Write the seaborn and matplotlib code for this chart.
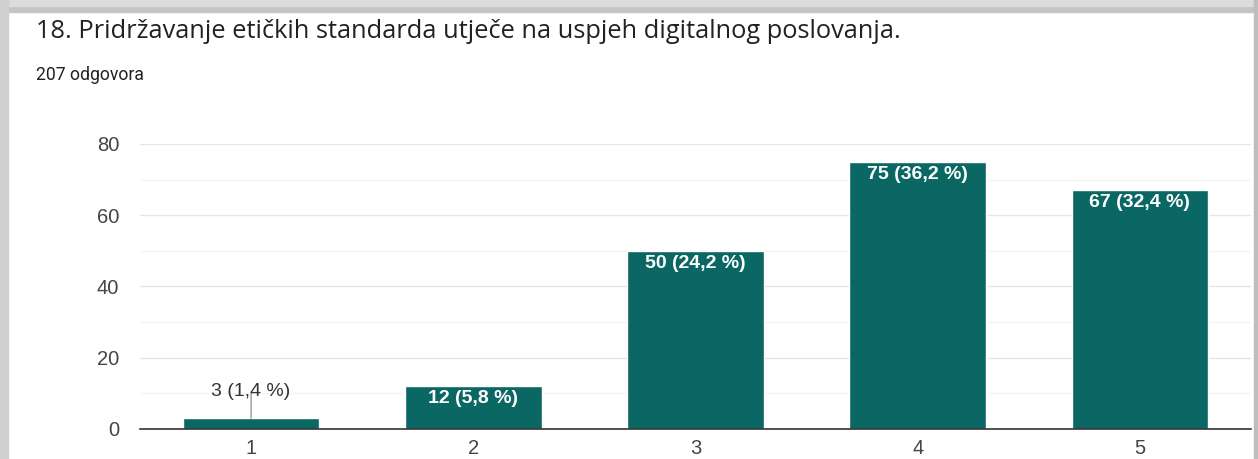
import seaborn as sns
import matplotlib.pyplot as plt
from matplotlib.patches import Rectangle

categories = ["1", "2", "3", "4", "5"]
counts = [3, 12, 50, 75, 67]
labels = ["3 (1,4 %)", "12 (5,8 %)", "50 (24,2 %)", "75 (36,2 %)", "67 (32,4 %)"]
yticks = [0, 20, 40, 60, 80]

bar_color = "#0a6763"

sns.set_style("white")
plt.rcParams['font.family'] = ['Liberation Sans', 'DejaVu Sans']

fig = plt.figure(figsize=(12.58, 4.59), dpi=100)
ax = fig.add_axes([0.1113, 0.0654, 0.8831, 0.6209])

sns.barplot(x=categories, y=counts, color=bar_color, width=0.615, saturation=1, ax=ax)

ax.set_ylim(0, 80)
ax.set_yticks(yticks)
ax.set_yticks(range(10, 80, 20), minor=True)
ax.grid(axis="y", which="major", color="#e6e6e6", linewidth=1)
ax.grid(axis="y", which="minor", color="#f4f4f4", linewidth=1)
ax.set_axisbelow(True)
for s in ["top", "right", "left"]:
    ax.spines[s].set_visible(False)
ax.spines["bottom"].set_color("#333333")
ax.spines["bottom"].set_linewidth(1.2)
ax.tick_params(axis="both", length=0, labelsize=14.5, labelcolor="#444444")
ax.tick_params(axis="y", pad=15)
ax.tick_params(axis="x", pad=7)
ax.set_xlabel("")
ax.set_ylabel("")

for i, (v, lab) in enumerate(zip(counts, labels)):
    if v < 8:
        ax.annotate(lab, xy=(i, v), xytext=(0, 13), textcoords="offset points",
                    ha="center", va="bottom", fontsize=14, color="#333333",
                    arrowprops=dict(arrowstyle="-", color="#999999", lw=1,
                                    patchA=None, shrinkA=1, shrinkB=0))
    else:
        ax.annotate(lab, xy=(i, v), xytext=(0, -3), textcoords="offset points",
                    ha="center", va="top", fontsize=14, color="white",
                    fontweight="bold")

fig.text(36 / 1258, 1 - 32 / 459, "18. Pridržavanje etičkih standarda utječe na uspjeh digitalnog poslovanja.",
         fontsize=18.3, color="#202124", va="center", ha="left", family=["Open Sans", "DejaVu Sans"])
fig.text(36 / 1258, 1 - 75 / 459, "207 odgovora", fontsize=12.7, color="#202124",
         va="center", ha="left", family=["Roboto", "DejaVu Sans"])

# screenshot shadow frame
fig.patches.append(Rectangle((0, 1 - 12 / 459), 1, 12 / 459, transform=fig.transFigure,
                             color="#c4c4c4", zorder=0))
fig.patches.append(Rectangle((0, 1 - 6 / 459), 1, 6 / 459, transform=fig.transFigure,
                             color="#dcdcdc", zorder=0))
fig.patches.append(Rectangle((0, 0), 8 / 1258, 1, transform=fig.transFigure,
                             color="#d0d0d0", zorder=0))
fig.patches.append(Rectangle((1 - 4 / 1258, 0), 4 / 1258, 1, transform=fig.transFigure,
                             color="#bdbdbd", zorder=0))

fig.savefig("out.png", dpi=100)
